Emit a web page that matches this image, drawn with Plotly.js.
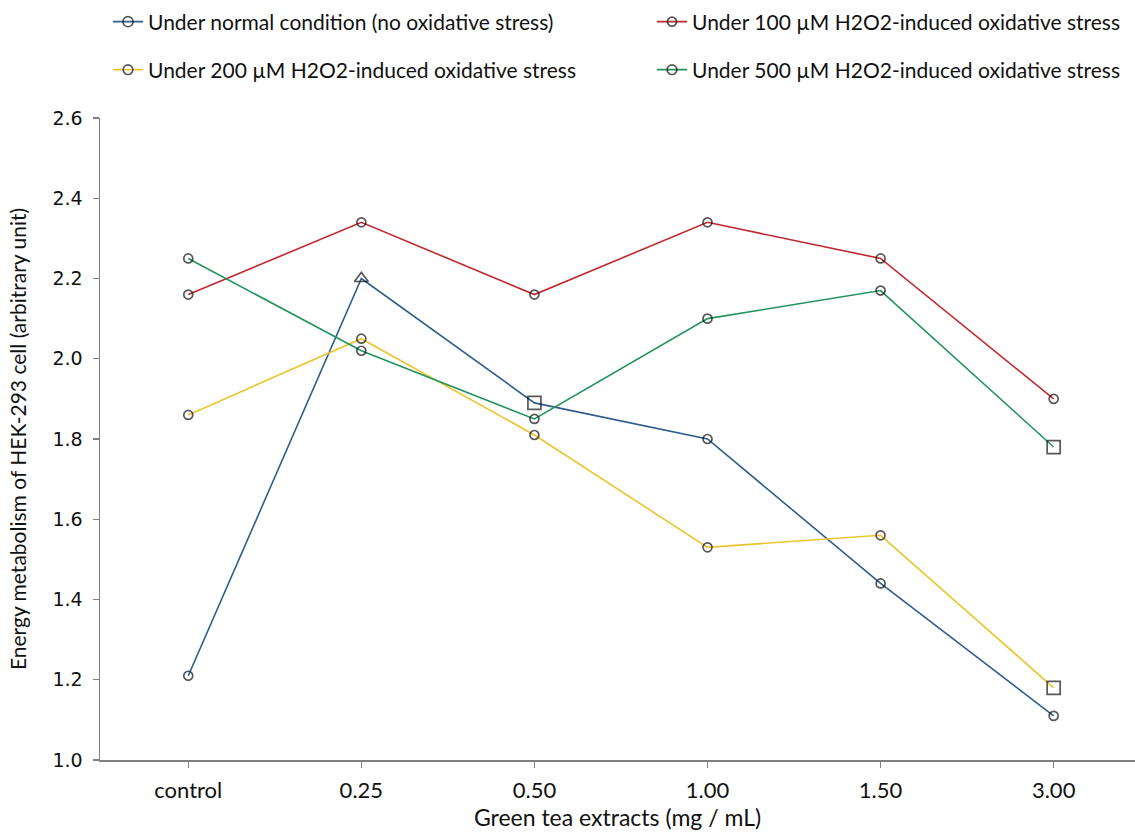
<!DOCTYPE html>
<html>
<head>
<meta charset="utf-8">
<script src="https://cdn.plot.ly/plotly-3.0.1.min.js"></script>
<style>html,body{margin:0;padding:0;background:#fff;}#chart{width:1135px;height:832px;}</style>
</head>
<body>
<div id="chart"></div>
<script>
const categories = ["control", "0.25", "0.50", "1.00", "1.50", "3.00"];
const normal = [1.21, 2.20, 1.89, 1.80, 1.44, 1.11];
const stress100 = [2.16, 2.34, 2.16, 2.34, 2.25, 1.90];
const stress200 = [1.86, 2.05, 1.81, 1.53, 1.56, 1.18];
const stress500 = [2.25, 2.02, 1.85, 2.10, 2.17, 1.78];
const normalSymbols = ["circle-open", "triangle-up-open", "square-open", "circle-open", "circle-open", "circle-open"];
const s100Symbols = ["circle-open", "circle-open", "circle-open", "circle-open", "circle-open", "circle-open"];
const s200Symbols = ["circle-open", "circle-open", "circle-open", "circle-open", "circle-open", "square-open"];
const s500Symbols = ["circle-open", "circle-open", "circle-open", "circle-open", "circle-open", "square-open"];
const seriesNames = [
  "Under normal condition (no oxidative stress)",
  "Under 100 µM H2O2-induced oxidative stress",
  "Under 200 µM H2O2-induced oxidative stress",
  "Under 500 µM H2O2-induced oxidative stress"
];

const textFont = "Lato, 'Open Sans', Arial, sans-serif";

function mk(y, name, color, symbols, legend) {
  return {
    x: categories, y: y, name: name, type: 'scatter', mode: 'lines+markers',
    legend: legend,
    line: {color: color, width: 1.6},
    marker: {
      symbol: symbols,
      size: symbols.map(s => s.startsWith('square') ? 13 : (s.startsWith('triangle') ? 12 : 9)),
      color: '#111',
      line: {color: '#111', width: 1.7}
    }
  };
}

const data = [
  mk(normal, seriesNames[0], '#2E5D8E', normalSymbols, 'legend'),
  mk(stress100, seriesNames[1], '#C0282F', s100Symbols, 'legend2'),
  mk(stress200, seriesNames[2], '#EBC52E', s200Symbols, 'legend3'),
  mk(stress500, seriesNames[3], '#23935C', s500Symbols, 'legend4')
];

function leg(xpx, ypx) {
  return {
    orientation: 'h', xref: 'container', yref: 'container',
    xanchor: 'left', yanchor: 'middle',
    x: xpx / 1135, y: 1 - ypx / 832,
    font: {family: textFont, size: 21, color: '#111'},
    bgcolor: 'rgba(0,0,0,0)'
  };
}

const layout = {
  width: 1135, height: 832,
  margin: {l: 100, r: 0, t: 118, b: 72},
  paper_bgcolor: '#fff', plot_bgcolor: '#fff',
  showlegend: true,
  legend: leg(108, 22),
  legend2: leg(652, 22),
  legend3: leg(108, 70),
  legend4: leg(652, 70),
  xaxis: {
    type: 'category', range: [-0.51, 5.47],
    showline: true, linecolor: '#7f7f7f', linewidth: 1.5,
    ticks: 'outside', ticklen: 6, tickcolor: '#7f7f7f', tickwidth: 1.3,
    ticklabelstandoff: 4,
    showgrid: false, zeroline: false,
    tickfont: {family: textFont, size: 22, color: '#111'},
    title: {text: 'Green tea extracts (mg / mL)', font: {family: textFont, size: 23, color: '#111'}, standoff: 8}
  },
  yaxis: {
    range: [1.0, 2.6], dtick: 0.2, tick0: 1.0, tickformat: '.1f',
    showline: true, linecolor: '#7f7f7f', linewidth: 1.5,
    ticks: 'outside', ticklen: 6, tickcolor: '#7f7f7f', tickwidth: 1.3,
    ticklabelstandoff: 6,
    showgrid: false, zeroline: false,
    tickfont: {family: "'DejaVu Sans', Verdana, sans-serif", size: 19, color: '#111'},
    title: {text: 'Energy metabolism of HEK-293 cell (arbitrary unit)', font: {family: textFont, size: 21, color: '#111'}, standoff: 20}
  }
};

Plotly.newPlot('chart', data, layout, {displayModeBar: false, staticPlot: true});
</script>
</body>
</html>
